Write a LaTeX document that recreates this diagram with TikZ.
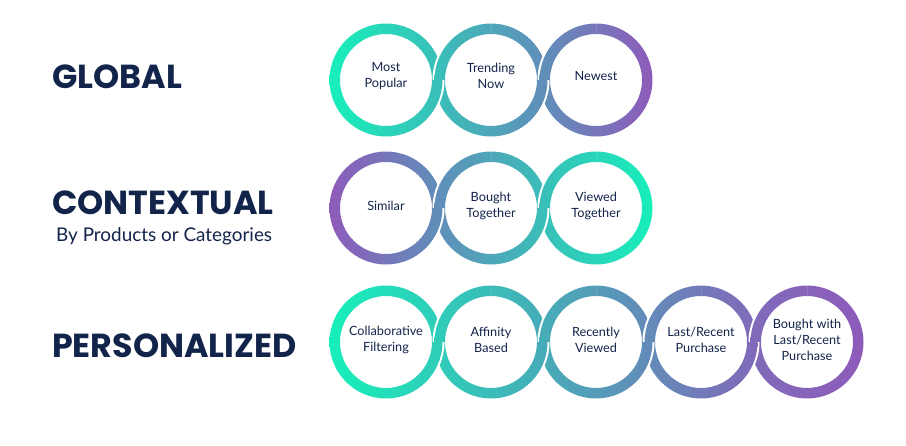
\documentclass[tikz,border=0pt]{standalone}
\usepackage{fontspec}
\setmainfont{Lato}
\newfontfamily\titlefont{Poppins}
\definecolor{navy}{HTML}{13244A}
\definecolor{G}{HTML}{17EFBA}
\definecolor{T}{HTML}{4AA7B8}
\definecolor{P}{HTML}{8E5BBA}
% full ring: centre (#1,#2), colours #3 -> #4
\newcommand\ringfull[4]{%
  \shade[left color=#3,right color=#4,even odd rule]
    (#1,#2) circle[radius=56.5] (#1,#2) circle[radius=46];}
% junction between ring A (x=#1, colours #4,#5) and ring B (x=#3, colours #6,#7), row y=#2
\newcommand\junction[7]{%
  \begin{scope}
    \clip (#1,#2) rectangle (#3,#2+70);
    \fill[white] (#3,#2) circle[radius=58.5];
    \ringfull{#3}{#2}{#6}{#7}
  \end{scope}
  \begin{scope}
    \clip (#1,#2) rectangle (#3,#2-70);
    \fill[white] (#1,#2) circle[radius=58.5];
    \ringfull{#1}{#2}{#4}{#5}
  \end{scope}}
\begin{document}
\begin{tikzpicture}[x=1pt,y=1pt,
  lbl/.style={align=center,text=navy,inner sep=0pt,
    font=\fontsize{12.7}{16}\selectfont},
  title/.style={anchor=west,text=navy,inner sep=0pt,
    font=\titlefont\bfseries\fontsize{33.3}{38}\selectfont},
  sub/.style={anchor=west,text=navy,inner sep=0pt,
    font=\fontsize{18.9}{22}\selectfont}]
\useasboundingbox (0,0) rectangle (906,-445);
% ---- row 1
\ringfull{386}{-80}{G}{T!70!G}
\ringfull{491}{-80}{T!65!G}{P!35!T}
\ringfull{596}{-80}{P!30!T}{P}
\junction{386}{-80}{491}{G}{T!70!G}{T!65!G}{P!35!T}
\junction{491}{-80}{596}{T!65!G}{P!35!T}{P!30!T}{P}
% ---- row 2
\ringfull{386}{-208}{P}{T!70!P}
\ringfull{491}{-208}{T!65!P}{G!35!T}
\ringfull{596}{-208}{G!30!T}{G}
\junction{386}{-208}{491}{P}{T!70!P}{T!65!P}{G!35!T}
\junction{491}{-208}{596}{T!65!P}{G!35!T}{G!30!T}{G}
% ---- row 3
\ringfull{386}{-342}{G}{T!49!G}
\ringfull{491}{-342}{T!46!G}{T!95!G}
\ringfull{596}{-342}{T!91!G}{P!39!T}
\ringfull{701}{-342}{P!35!T}{P!82!T}
\ringfull{807}{-342}{P!79!T}{P}
\junction{386}{-342}{491}{G}{T!49!G}{T!46!G}{T!95!G}
\junction{491}{-342}{596}{T!46!G}{T!95!G}{T!91!G}{P!39!T}
\junction{596}{-342}{701}{T!91!G}{P!39!T}{P!35!T}{P!82!T}
\junction{701}{-342}{807}{P!35!T}{P!82!T}{P!79!T}{P}
% ---- titles
\node[title] (global) at (52,-77) {GLOBAL};
\node[title] (contextual) at (52,-203) {CONTEXTUAL};
\node[sub] (bycat) at (56,-236) {By Products or Categories};
\node[title] (personalized) at (52,-346) {PERSONALIZED};
% ---- labels
\node[lbl] (mostpop) at (386,-76) {Most\\Popular};
\node[lbl] (trending) at (491,-76) {Trending\\Now};
\node[lbl] (newest) at (596,-76) {Newest};
\node[lbl] (similar) at (386,-206) {Similar};
\node[lbl] (boughttog) at (491,-206) {Bought\\Together};
\node[lbl] (viewedtog) at (596,-206) {Viewed\\Together};
\node[lbl] (collab) at (386,-340) {Collaborative\\Filtering};
\node[lbl] (affinity) at (491,-340) {Affinity\\Based};
\node[lbl] (recent) at (596,-340) {Recently\\Viewed};
\node[lbl] (lastrec) at (701,-340) {Last/Recent\\Purchase};
\node[lbl] (boughtwith) at (807,-340) {Bought with\\Last/Recent\\Purchase};
\end{tikzpicture}
\end{document}
